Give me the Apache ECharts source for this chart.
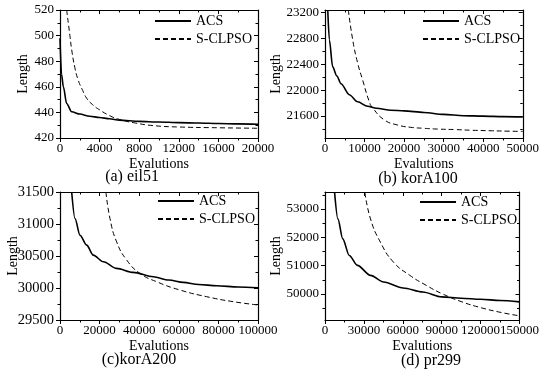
<!DOCTYPE html>
<html>
<head>
<meta charset="utf-8">
<script src="https://cdn.jsdelivr.net/npm/echarts@6/dist/echarts.min.js"></script>
<style>
  html, body { margin: 0; padding: 0; background: #fff; }
  #chart { width: 542px; height: 375px; }
</style>
</head>
<body>
<div id="chart"></div>
<script>
// (a) eil51
const acsEvalA = [0, 150, 340, 670, 1180, 2000, 3000, 4000, 5000, 6000, 8000, 10000, 12000, 14000, 16000, 18000, 20000];
const acsLenA = [498, 470, 460, 447, 440.5, 438.7, 437, 436, 435, 434, 433, 432.5, 432, 431.7, 431.3, 431, 430.7];
const psoEvalA = [670, 1000, 1180, 1500, 1850, 2300, 2700, 3300, 4000, 5000, 6000, 7400, 9400, 12000, 16000, 20000];
const psoLenA = [520, 500, 489, 475, 465, 457, 451, 446, 442, 437.5, 434.5, 432, 429.7, 428.6, 428, 427.6];
const xTicksA = [0, 4000, 8000, 12000, 16000, 20000];
const yTicksA = [420, 440, 460, 480, 500, 520];

// (b) korA100
const acsEvalB = [700, 1100, 1940, 3000, 4040, 6140, 8250, 10770, 13000, 16650, 20000, 25000, 30000, 35000, 40000, 45000, 50000];
const acsLenB = [23240, 22780, 22360, 22220, 22100, 21930, 21820, 21750, 21720, 21690, 21680, 21655, 21625, 21605, 21598, 21590, 21585];
const psoEvalB = [5900, 7000, 8250, 9500, 11200, 12000, 15000, 18400, 21700, 25000, 28500, 33000, 37000, 42000, 46000, 50000];
const psoLenB = [23240, 22780, 22420, 22160, 21820, 21730, 21540, 21460, 21425, 21410, 21398, 21390, 21380, 21372, 21366, 21362];
const xTicksB = [0, 10000, 20000, 30000, 40000, 50000];
const yTicksB = [21600, 22000, 22400, 22800, 23200];

// (c) korA200
const acsEvalC = [5900, 7570, 10100, 13470, 16800, 21900, 28600, 37000, 47100, 55000, 62300, 70000, 79100, 90000, 100000];
const acsLenC = [31500, 31085, 30825, 30670, 30513, 30410, 30306, 30244, 30175, 30125, 30088, 30055, 30035, 30015, 30003];
const psoEvalC = [23200, 25250, 28600, 33700, 40400, 48800, 60600, 74100, 87500, 100000];
const psoLenC = [31500, 31085, 30721, 30436, 30228, 30098, 29968, 29864, 29786, 29735];
const xTicksC = [0, 20000, 40000, 60000, 80000, 100000];
const yTicksC = [29500, 30000, 30500, 31000, 31500];

// (d) pr299
const acsEvalD = [7400, 9950, 13700, 18700, 25000, 35100, 45200, 60300, 75400, 90000, 105000, 120000, 135000, 150000];
const acsLenD = [53580, 52650, 51946, 51360, 51008, 50657, 50421, 50211, 50070, 49895, 49850, 49814, 49770, 49719];
const psoEvalD = [30800, 35100, 42700, 52800, 65400, 78000, 90000, 105700, 120800, 135900, 150000];
const psoLenD = [53580, 52650, 51830, 51124, 50657, 50306, 50014, 49719, 49508, 49345, 49227];
const xTicksD = [0, 30000, 60000, 90000, 120000, 150000];
const yTicksD = [50000, 51000, 52000, 53000];

const FONT = 'Liberation Serif';

const panels = [
  { grid: { left: 60, top: 10, width: 198, height: 128 }, xr: [0, 20000], yr: [420, 520],
    xt: xTicksA, yt: yTicksA, yGap: 30, yFont: 13, legend: [154, 14], caption: ['(a) eil51', 132, 177],
    acs: [acsEvalA, acsLenA], pso: [psoEvalA, psoLenA] },
  { grid: { left: 325, top: 10, width: 198, height: 128 }, xr: [0, 50000], yr: [21260, 23240],
    xt: xTicksB, yt: yTicksB, yGap: 42, yFont: 13, legend: [422, 14], caption: ['(b) korA100', 418, 179],
    acs: [acsEvalB, acsLenB], pso: [psoEvalB, psoLenB] },
  { grid: { left: 60, top: 192, width: 198, height: 128 }, xr: [0, 100000], yr: [29500, 31500],
    xt: xTicksC, yt: yTicksC, yGap: 40, yFont: 14.5, legend: [157, 194], caption: ['(c)korA200', 139, 360],
    acs: [acsEvalC, acsLenC], pso: [psoEvalC, psoLenC] },
  { grid: { left: 325, top: 192, width: 198, height: 128 }, xr: [0, 150000], yr: [49080, 53600],
    xt: xTicksD, yt: yTicksD, yGap: 42, yFont: 13, legend: [419, 195], caption: ['(d) pr299', 431, 361],
    acs: [acsEvalD, acsLenD], pso: [psoEvalD, psoLenD] }
];

function minorOf(ticks, range) {
  const step = ticks[1] - ticks[0];
  const out = [];
  for (let v = ticks[0] - step / 2; v <= range[1]; v += step) {
    if (v >= range[0]) out.push(v);
  }
  return out;
}

function zip(xs, ys) {
  return xs.map((x, i) => [x, ys[i]]);
}

const line = { show: true, onZero: false, lineStyle: { color: '#000', width: 1.2 } };

function labelStyle(values, size, margin) {
  // every other label sits on its own axis so none gets thinned out
  return {
    show: true, customValues: values, interval: 0, color: '#000', fontFamily: FONT,
    fontSize: size, margin: margin, formatter: (v) => String(v),
    showMinLabel: true, showMaxLabel: true, hideOverlap: false
  };
}

function axisSet(gi, dim, p) {
  const range = dim === 'x' ? p.xr : p.yr;
  const major = dim === 'x' ? p.xt : p.yt;
  const minor = minorOf(major, range);
  const evens = major.filter((v, i) => i % 2 === 0);
  const odds = major.filter((v, i) => i % 2 === 1);
  const size = dim === 'x' ? 13 : p.yFont;
  const margin = dim === 'x' ? 4 : 6;
  const sides = dim === 'x' ? ['bottom', 'top'] : ['left', 'right'];
  const base = { type: 'value', gridIndex: gi, min: range[0], max: range[1], splitLine: { show: false }, axisLine: line };
  const main = Object.assign({}, base, {
    position: sides[0],
    axisTick: { show: true, inside: false, length: 4, customValues: major, lineStyle: { color: '#000', width: 1 } },
    axisLabel: labelStyle(evens, size, margin),
    name: dim === 'x' ? 'Evalutions' : 'Length',
    nameLocation: 'middle',
    nameGap: dim === 'x' ? 19 : p.yGap,
    nameMoveOverlap: false,
    nameTextStyle: { color: '#000', fontFamily: FONT, fontSize: 14 }
  });
  const mainMinor = Object.assign({}, base, {
    position: sides[0], axisLine: { show: false, onZero: false },
    axisTick: { show: true, inside: false, length: 2.5, customValues: minor, lineStyle: { color: '#000', width: 1 } },
    axisLabel: labelStyle(odds, size, margin)
  });
  const mirror = Object.assign({}, base, {
    position: sides[1],
    axisTick: { show: true, inside: true, length: 4, customValues: major, lineStyle: { color: '#000', width: 1 } },
    axisLabel: { show: false }
  });
  const mirrorMinor = Object.assign({}, base, {
    position: sides[1], axisLine: { show: false, onZero: false },
    axisTick: { show: true, inside: true, length: 2.5, customValues: minor, lineStyle: { color: '#000', width: 1 } },
    axisLabel: { show: false }
  });
  return [main, mainMinor, mirror, mirrorMinor];
}

const grids = [], xAxes = [], yAxes = [], series = [], legends = [], captions = [];

panels.forEach((p, gi) => {
  grids.push(p.grid);
  xAxes.push(...axisSet(gi, 'x', p));
  yAxes.push(...axisSet(gi, 'y', p));
  series.push({
    name: 'ACS', type: 'line', xAxisIndex: gi * 4, yAxisIndex: gi * 4,
    data: zip(p.acs[0], p.acs[1]), symbol: 'none', smooth: 0.3, smoothMonotone: 'x',
    lineStyle: { color: '#000', width: 1.6, type: 'solid' }, itemStyle: { color: '#000' }
  });
  series.push({
    name: 'S-CLPSO', type: 'line', xAxisIndex: gi * 4, yAxisIndex: gi * 4,
    data: zip(p.pso[0], p.pso[1]), symbol: 'none', smooth: 0.5,
    lineStyle: { color: '#000', width: 1, type: [5, 3] }, itemStyle: { color: '#000' }
  });
  legends.push({
    left: p.legend[0], top: p.legend[1], orient: 'vertical',
    itemWidth: 36, itemHeight: 12, itemGap: 4, padding: 0,
    data: ['ACS', 'S-CLPSO'],
    itemStyle: { opacity: 0 },
    textStyle: { color: '#000', fontFamily: FONT, fontSize: 14 }
  });
  captions.push({
    type: 'text', x: p.caption[1], y: p.caption[2],
    style: { text: p.caption[0], fill: '#000', font: '16px ' + FONT, align: 'center', verticalAlign: 'middle' }
  });
});

const chart = echarts.init(document.getElementById('chart'));
chart.setOption({
  animation: false,
  backgroundColor: '#fff',
  textStyle: { fontFamily: FONT, color: '#000' },
  grid: grids,
  xAxis: xAxes,
  yAxis: yAxes,
  legend: legends,
  series: series,
  graphic: captions
});
</script>
</body>
</html>
